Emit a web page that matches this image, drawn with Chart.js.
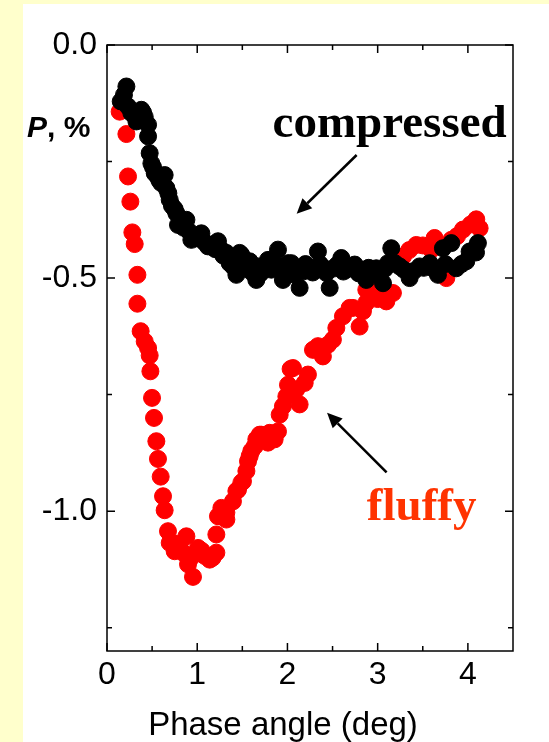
<!DOCTYPE html>
<html>
<head>
<meta charset="utf-8">
<script src="https://cdn.jsdelivr.net/npm/chart.js@4"></script>
<style>
  html, body { margin: 0; padding: 0; background: #ffffcc; }
  #wrap { position: relative; width: 549px; height: 742px; }
</style>
</head>
<body>
<div id="wrap"><canvas id="polChart" width="549" height="742"></canvas></div>
<script>
// phase angle (deg) vs. polarization P (%) for the two samples
const compressedX = [0.152, 0.188, 0.215, 0.233, 0.270, 0.30, 0.326, 0.35, 0.381, 0.40, 0.418, 0.455,
  0.455, 0.473, 0.492, 0.51, 0.529, 0.56, 0.580, 0.60, 0.639, 0.658, 0.68, 0.695, 0.72, 0.75, 0.769,
  0.787, 0.82, 0.85, 0.880, 0.91, 0.935, 0.98, 1.01, 1.046, 1.08, 1.119, 1.16, 1.20, 1.230, 1.27,
  1.29, 1.323, 1.360, 1.396, 1.42, 1.434, 1.470, 1.489, 1.52, 1.563, 1.581, 1.61, 1.655, 1.673, 1.70,
  1.728, 1.76, 1.784, 1.822, 1.86, 1.895, 1.93, 1.950, 1.98, 2.006, 2.043, 2.07, 2.10, 2.135, 2.172,
  2.20, 2.246, 2.28, 2.338, 2.36, 2.40, 2.431, 2.468, 2.50, 2.55, 2.597, 2.62, 2.653, 2.70, 2.745,
  2.79, 2.837, 2.874, 2.90, 2.94, 2.985, 3.02, 3.059, 3.08, 3.114, 3.151, 3.19, 3.243, 3.29, 3.354,
  3.40, 3.465, 3.51, 3.576, 3.62, 3.668, 3.723, 3.75, 3.816, 3.871, 3.93, 3.982, 4.019, 4.06, 4.09, 4.111];
const compressedP = [-0.121, -0.107, -0.089, -0.132, -0.146, -0.150, -0.164, -0.158, -0.139, -0.145, -0.154, -0.171,
  -0.196, -0.232, -0.254, -0.262, -0.275, -0.282, -0.290, -0.296, -0.279, -0.307, -0.318, -0.332, -0.345, -0.352, -0.361,
  -0.386, -0.380, -0.392, -0.375, -0.400, -0.418, -0.415, -0.410, -0.404, -0.423, -0.432, -0.428, -0.438, -0.421, -0.440,
  -0.452, -0.446, -0.468, -0.475, -0.462, -0.493, -0.446, -0.450, -0.470, -0.475, -0.464, -0.488, -0.504, -0.475, -0.490,
  -0.475, -0.480, -0.461, -0.482, -0.470, -0.439, -0.476, -0.504, -0.490, -0.468, -0.468, -0.492, -0.478, -0.521, -0.486,
  -0.470, -0.482, -0.488, -0.443, -0.470, -0.478, -0.489, -0.521, -0.480, -0.472, -0.457, -0.486, -0.482, -0.478, -0.471,
  -0.490, -0.482, -0.504, -0.478, -0.490, -0.479, -0.488, -0.511, -0.480, -0.468, -0.436, -0.468, -0.475, -0.482, -0.500,
  -0.485, -0.475, -0.478, -0.468, -0.480, -0.493, -0.436, -0.470, -0.425, -0.479, -0.470, -0.464, -0.443, -0.440, -0.445, -0.425];

const fluffyX = [0.140, 0.215, 0.233, 0.259, 0.281, 0.307, 0.337, 0.337, 0.373, 0.418, 0.455, 0.473,
  0.481, 0.499, 0.521, 0.547, 0.565, 0.595, 0.621, 0.639, 0.676, 0.695, 0.750, 0.78, 0.806, 0.85,
  0.880, 0.898, 0.93, 0.953, 1.009, 1.05, 1.083, 1.138, 1.17, 1.212, 1.212, 1.230, 1.249, 1.268,
  1.323, 1.323, 1.396, 1.434, 1.452, 1.489, 1.507, 1.545, 1.563, 1.581, 1.600, 1.637, 1.655, 1.692,
  1.711, 1.784, 1.803, 1.858, 1.895, 1.914, 1.950, 1.988, 2.006, 2.035, 2.061, 2.098, 2.135, 2.191,
  2.227, 2.283, 2.338, 2.393, 2.449, 2.504, 2.542, 2.615, 2.689, 2.726, 2.800, 2.837, 2.874, 2.874,
  2.90, 2.985, 3.00, 3.05, 3.096, 3.169, 3.22, 3.280, 3.35, 3.428, 3.50, 3.594, 3.631, 3.686, 3.70,
  3.761, 3.816, 3.88, 3.945, 4.03, 4.093, 4.130];
const fluffyP = [-0.143, -0.191, -0.282, -0.336, -0.402, -0.427, -0.493, -0.555, -0.614, -0.636, -0.650, -0.666,
  -0.700, -0.757, -0.800, -0.850, -0.888, -0.926, -0.968, -0.998, -1.043, -1.068, -1.086, -1.070, -1.079, -1.090,
  -1.054, -1.114, -1.100, -1.141, -1.079, -1.085, -1.096, -1.104, -1.100, -1.089, -1.050, -1.011, -1.011, -0.993,
  -1.018, -1.003, -0.979, -0.957, -0.954, -0.939, -0.936, -0.914, -0.893, -0.882, -0.871, -0.861, -0.846, -0.836,
  -0.836, -0.853, -0.832, -0.846, -0.829, -0.793, -0.775, -0.754, -0.729, -0.695, -0.693, -0.739, -0.771, -0.725,
  -0.707, -0.654, -0.646, -0.668, -0.643, -0.632, -0.607, -0.582, -0.564, -0.564, -0.604, -0.571, -0.553, -0.525,
  -0.515, -0.496, -0.545, -0.530, -0.550, -0.532, -0.470, -0.454, -0.440, -0.429, -0.430, -0.439, -0.414, -0.489, -0.430,
  -0.500, -0.418, -0.410, -0.396, -0.385, -0.374, -0.393];

const xMajor = [0, 1, 2, 3, 4];
const xMinor = [0.5, 1.5, 2.5, 3.5];
const yMajor = [0, -0.5, -1.0];
const yMinor = [-0.25, -0.75, -1.25];

const sans = "'Liberation Sans', Arial, sans-serif";
const serif = "'Liberation Serif', 'Times New Roman', serif";

function toPoints(xs, ys) {
  return xs.map((x, i) => ({ x: x, y: ys[i] }));
}

// arrow between two points given in data units
function arrow(c, sx, sy, x1, y1, x2, y2) {
  const ax = sx.getPixelForValue(x1), ay = sy.getPixelForValue(y1);
  const bx = sx.getPixelForValue(x2), by = sy.getPixelForValue(y2);
  const ang = Math.atan2(by - ay, bx - ax);
  const head = 15, half = 7;
  const hx = bx - head * Math.cos(ang), hy = by - head * Math.sin(ang);
  c.beginPath();
  c.moveTo(ax, ay);
  c.lineTo(hx, hy);
  c.lineWidth = 2.5;
  c.stroke();
  c.beginPath();
  c.moveTo(bx, by);
  c.lineTo(hx + half * Math.sin(ang), hy - half * Math.cos(ang));
  c.lineTo(hx - half * Math.sin(ang), hy + half * Math.cos(ang));
  c.closePath();
  c.fill();
}

const framePlugin = {
  id: 'frame',
  beforeDraw(chart) {
    const c = chart.ctx;
    c.save();
    c.fillStyle = '#ffffcc';
    c.fillRect(0, 0, chart.width, chart.height);
    c.fillStyle = '#ffffff';
    c.fillRect(23, 4, chart.width - 23, chart.height - 4);
    c.restore();
  },
  afterDraw(chart) {
    const c = chart.ctx, a = chart.chartArea;
    const sx = chart.scales.x, sy = chart.scales.y;
    c.save();
    c.strokeStyle = '#000';
    c.fillStyle = '#000';
    c.lineWidth = 1.5;
    c.strokeRect(a.left, a.top, a.right - a.left, a.bottom - a.top);

    // inward ticks on all four sides
    const xt = (vals, len) => vals.forEach(v => {
      const px = sx.getPixelForValue(v);
      c.beginPath();
      c.moveTo(px, a.bottom); c.lineTo(px, a.bottom - len);
      c.moveTo(px, a.top); c.lineTo(px, a.top + len);
      c.stroke();
    });
    const yt = (vals, len) => vals.forEach(v => {
      const py = sy.getPixelForValue(v);
      c.beginPath();
      c.moveTo(a.left, py); c.lineTo(a.left + len, py);
      c.moveTo(a.right, py); c.lineTo(a.right - len, py);
      c.stroke();
    });
    xt(xMajor, 8); xt(xMinor, 5);
    yt(yMajor, 8); yt(yMinor, 5);

    // sample labels with arrows
    c.font = 'bold 47px ' + serif;
    c.textBaseline = 'alphabetic';
    c.textAlign = 'right';
    c.fillText('compressed', sx.getPixelForValue(4.43), sy.getPixelForValue(-0.197));
    arrow(c, sx, sy, 2.767, -0.236, 2.102, -0.362);

    c.fillStyle = '#ff3300';
    c.textAlign = 'center';
    c.fillText('fluffy', sx.getPixelForValue(3.487), sy.getPixelForValue(-1.018));
    c.fillStyle = '#000';
    arrow(c, sx, sy, 3.099, -0.917, 2.439, -0.789);

    // axis titles
    c.textAlign = 'left';
    c.font = 'italic bold 30px ' + sans;
    c.fillText('P', 27, 137);
    const pw = c.measureText('P').width;
    c.font = 'bold 30px ' + sans;
    c.fillText(', %', 27 + pw, 137);

    c.font = '33px ' + sans;
    c.textAlign = 'center';
    c.fillText('Phase angle (deg)', 283, 735);
    c.restore();
  }
};

new Chart(document.getElementById('polChart'), {
  type: 'scatter',
  data: {
    datasets: [
      {
        label: 'compressed',
        data: toPoints(compressedX, compressedP),
        backgroundColor: '#000000',
        borderColor: '#000000',
        pointRadius: 8.5,
        pointBorderWidth: 1,
        pointHoverRadius: 8.5
      },
      {
        label: 'fluffy',
        data: toPoints(fluffyX, fluffyP),
        backgroundColor: '#ff0000',
        borderColor: '#ff0000',
        pointRadius: 8.5,
        pointBorderWidth: 1,
        pointHoverRadius: 8.5
      }
    ]
  },
  options: {
    responsive: false,
    animation: false,
    layout: { padding: { top: 45, right: 36, left: 0, bottom: 0 } },
    plugins: { legend: { display: false }, tooltip: { enabled: false } },
    scales: {
      x: {
        type: 'linear',
        min: 0,
        max: 4.5,
        afterFit: s => { s.height = 91; },
        grid: { display: false, drawTicks: false },
        border: { display: false },
        ticks: {
          stepSize: 1,
          includeBounds: false,
          padding: 5,
          color: '#000',
          font: { family: sans, size: 32 },
          callback: v => xMajor.includes(v) ? String(v) : ''
        }
      },
      y: {
        type: 'linear',
        min: -1.3,
        max: 0,
        afterFit: s => { s.width = 107; },
        grid: { display: false, drawTicks: false },
        border: { display: false },
        ticks: {
          stepSize: 0.5,
          includeBounds: false,
          padding: 10,
          color: '#000',
          font: { family: sans, size: 32 },
          callback: v => yMajor.some(t => Math.abs(t - v) < 1e-9) ? v.toFixed(1) : ''
        }
      }
    }
  },
  plugins: [framePlugin]
});
</script>
</body>
</html>
